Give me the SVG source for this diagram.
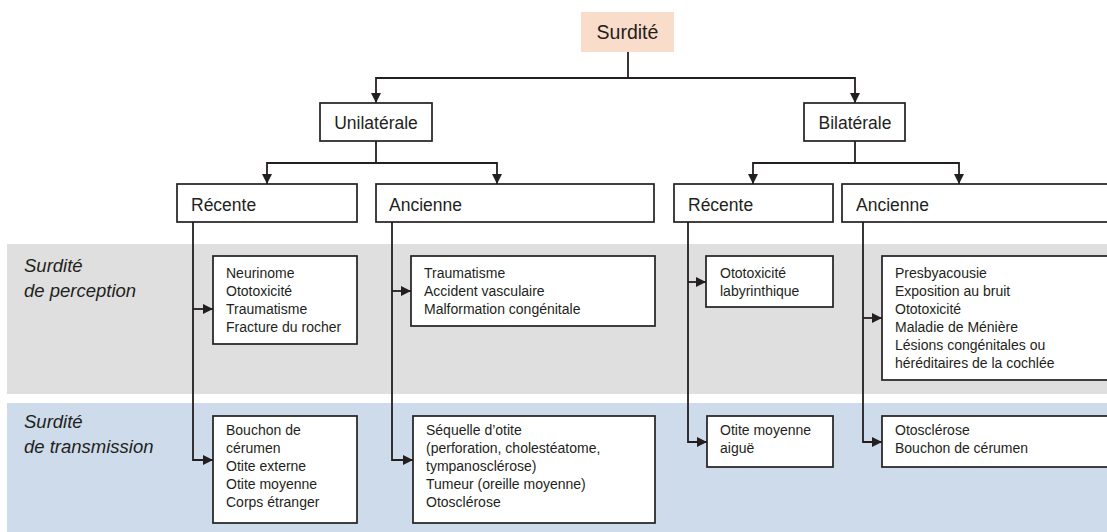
<svg xmlns="http://www.w3.org/2000/svg" width="1107" height="532" viewBox="0 0 1107 532">
<style>
text{font-family:"Liberation Sans",Arial,sans-serif;fill:#231f20}
.box{fill:#fff;stroke:#231f20;stroke-width:1.7}
.h{font-size:17.5px}
.t{font-size:14px}
.lab{font-size:18.5px;font-style:italic}
.c{fill:none;stroke:#231f20;stroke-width:1.8}
</style>
<defs>
<marker id="ar" markerUnits="userSpaceOnUse" markerWidth="10" markerHeight="10" refX="10" refY="5" viewBox="0 0 10 10" orient="auto">
<path d="M0,0 L10,5 L0,10 z" fill="#231f20"/>
</marker>
</defs>
<rect x="7" y="244" width="1100" height="150" fill="#dfdfdf"/>
<rect x="7" y="403" width="1100" height="129" fill="#cddbea"/>
<g id="band-labels">
<text class="lab" x="24" y="272">Surdité</text>
<text class="lab" x="24" y="297">de perception</text>
<text class="lab" x="24" y="428">Surdité</text>
<text class="lab" x="24" y="453">de transmission</text>
</g>
<g id="connectors">
<path class="c" d="M628,52 V78"/>
<path class="c" d="M628,78 H376 V103" marker-end="url(#ar)"/>
<path class="c" d="M628,78 H855 V103" marker-end="url(#ar)"/>
<path class="c" d="M376,141 V163"/>
<path class="c" d="M376,163 H267 V184" marker-end="url(#ar)"/>
<path class="c" d="M376,163 H497 V184" marker-end="url(#ar)"/>
<path class="c" d="M855,141 V163"/>
<path class="c" d="M855,163 H753 V184" marker-end="url(#ar)"/>
<path class="c" d="M855,163 H959 V184" marker-end="url(#ar)"/>
<path class="c" d="M193,222 V460 H213" marker-end="url(#ar)"/>
<path class="c" d="M193,309 H213" marker-end="url(#ar)"/>
<path class="c" d="M392,222 V460 H413" marker-end="url(#ar)"/>
<path class="c" d="M392,291 H411" marker-end="url(#ar)"/>
<path class="c" d="M688,222 V442 H707" marker-end="url(#ar)"/>
<path class="c" d="M688,282 H706" marker-end="url(#ar)"/>
<path class="c" d="M863,222 V442 H882" marker-end="url(#ar)"/>
<path class="c" d="M863,318 H882" marker-end="url(#ar)"/>
</g>
<g id="surdite">
<rect x="581" y="12" width="93" height="40" fill="#fadcca"/>
<text x="627.5" y="39" font-size="19.5" text-anchor="middle">Surdité</text>
</g>
<g id="unilaterale">
<rect class="box" x="320" y="103" width="112" height="38"/>
<text class="h" x="376" y="129" text-anchor="middle">Unilatérale</text>
</g>
<g id="bilaterale">
<rect class="box" x="804" y="103" width="101" height="38"/>
<text class="h" x="855" y="129" text-anchor="middle">Bilatérale</text>
</g>
<g id="uni-recente">
<rect class="box" x="177" y="184" width="180" height="38"/>
<text class="h" x="191" y="211">Récente</text>
</g>
<g id="uni-ancienne">
<rect class="box" x="376" y="184" width="278" height="38"/>
<text class="h" x="389" y="211">Ancienne</text>
</g>
<g id="bi-recente">
<rect class="box" x="674" y="184" width="159" height="38"/>
<text class="h" x="688" y="211">Récente</text>
</g>
<g id="bi-ancienne">
<rect class="box" x="842" y="184" width="270" height="38"/>
<text class="h" x="856" y="211">Ancienne</text>
</g>
<g id="uni-rec-perception">
<rect class="box" x="213" y="256" width="144" height="88"/>
<text class="t" x="226" y="278">Neurinome</text>
<text class="t" x="226" y="296">Ototoxicité</text>
<text class="t" x="226" y="314">Traumatisme</text>
<text class="t" x="226" y="332">Fracture du rocher</text>
</g>
<g id="uni-anc-perception">
<rect class="box" x="411" y="256" width="244" height="70"/>
<text class="t" x="424" y="278">Traumatisme</text>
<text class="t" x="424" y="296">Accident vasculaire</text>
<text class="t" x="424" y="314">Malformation congénitale</text>
</g>
<g id="bi-rec-perception">
<rect class="box" x="706" y="256" width="127" height="51"/>
<text class="t" x="720" y="278">Ototoxicité</text>
<text class="t" x="720" y="296">labyrinthique</text>
</g>
<g id="bi-anc-perception">
<rect class="box" x="882" y="256" width="230" height="124"/>
<text class="t" x="895" y="278">Presbyacousie</text>
<text class="t" x="895" y="296">Exposition au bruit</text>
<text class="t" x="895" y="314">Ototoxicité</text>
<text class="t" x="895" y="332">Maladie de Ménière</text>
<text class="t" x="895" y="350">Lésions congénitales ou</text>
<text class="t" x="895" y="368">héréditaires de la cochlée</text>
</g>
<g id="uni-rec-transmission">
<rect class="box" x="213" y="416" width="144" height="107"/>
<text class="t" x="226" y="435">Bouchon de</text>
<text class="t" x="226" y="453">cérumen</text>
<text class="t" x="226" y="471">Otite externe</text>
<text class="t" x="226" y="489">Otite moyenne</text>
<text class="t" x="226" y="507">Corps étranger</text>
</g>
<g id="uni-anc-transmission">
<rect class="box" x="413" y="416" width="242" height="107"/>
<text class="t" x="426" y="435">Séquelle d’otite</text>
<text class="t" x="426" y="453">(perforation, cholestéatome,</text>
<text class="t" x="426" y="471">tympanosclérose)</text>
<text class="t" x="426" y="489">Tumeur (oreille moyenne)</text>
<text class="t" x="426" y="507">Otosclérose</text>
</g>
<g id="bi-rec-transmission">
<rect class="box" x="707" y="416" width="126" height="51"/>
<text class="t" x="720" y="435">Otite moyenne</text>
<text class="t" x="720" y="453">aiguë</text>
</g>
<g id="bi-anc-transmission">
<rect class="box" x="882" y="416" width="230" height="51"/>
<text class="t" x="895" y="435">Otosclérose</text>
<text class="t" x="895" y="453">Bouchon de cérumen</text>
</g>
</svg>
